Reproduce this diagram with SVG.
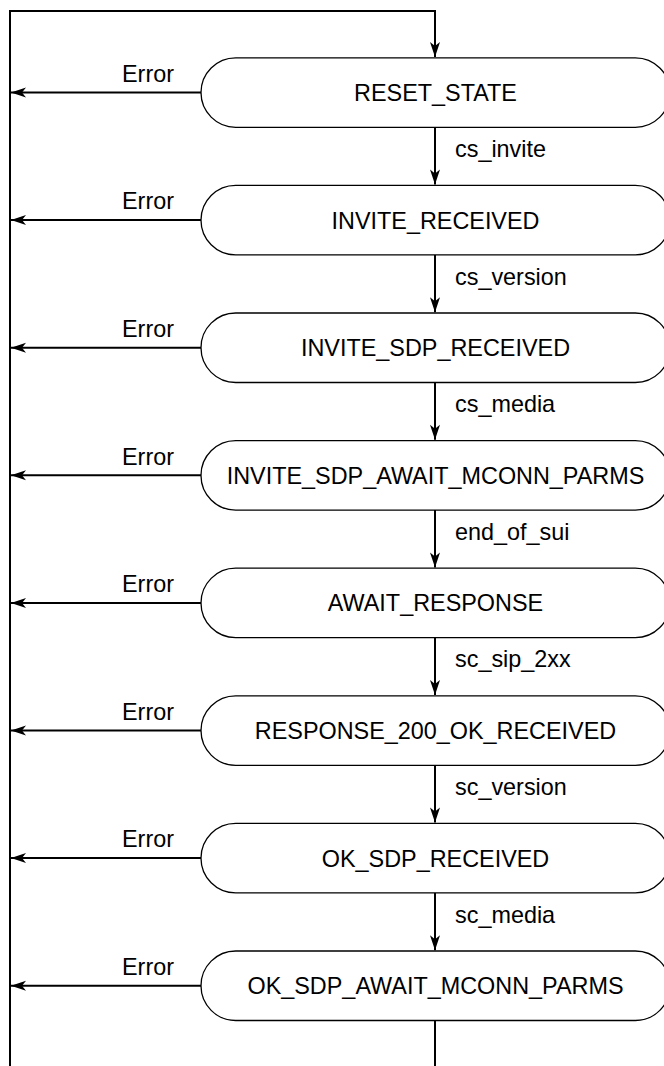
<svg xmlns="http://www.w3.org/2000/svg" width="664" height="1066" viewBox="0 0 664 1066">
<style>
.node rect{fill:#fff;stroke:#000;stroke-width:1.3}
.node text{font-family:"Liberation Sans",Arial,sans-serif;font-size:23.4px;text-anchor:middle;fill:#000}
.lbl{font-family:"Liberation Sans",Arial,sans-serif;font-size:23.4px;fill:#000}
.c{fill:none;stroke:#000;stroke-width:2}
</style>
<defs>
<marker id="ah" viewBox="-16 -6 17 12" refX="0" refY="0" markerWidth="17" markerHeight="12" markerUnits="userSpaceOnUse" orient="auto">
<path d="M0,0 L-15,-5 L-11,0 L-15,5 Z" fill="#000"/>
</marker>
</defs>
<g id="connectors">
<path class="c" d="M10,1066 V11 H435 V57" marker-end="url(#ah)"/>
<path class="c" d="M201,92.5 H11" marker-end="url(#ah)"/>
<path class="c" d="M201,220.1 H11" marker-end="url(#ah)"/>
<path class="c" d="M201,347.7 H11" marker-end="url(#ah)"/>
<path class="c" d="M201,475.3 H11" marker-end="url(#ah)"/>
<path class="c" d="M201,602.9 H11" marker-end="url(#ah)"/>
<path class="c" d="M201,730.5 H11" marker-end="url(#ah)"/>
<path class="c" d="M201,858.1 H11" marker-end="url(#ah)"/>
<path class="c" d="M201,985.7 H11" marker-end="url(#ah)"/>
<path class="c" d="M435,127.3 V184.6" marker-end="url(#ah)"/>
<path class="c" d="M435,254.9 V312.2" marker-end="url(#ah)"/>
<path class="c" d="M435,382.5 V439.8" marker-end="url(#ah)"/>
<path class="c" d="M435,510.1 V567.4" marker-end="url(#ah)"/>
<path class="c" d="M435,637.7 V695.0" marker-end="url(#ah)"/>
<path class="c" d="M435,765.3 V822.6" marker-end="url(#ah)"/>
<path class="c" d="M435,892.9 V950.2" marker-end="url(#ah)"/>
<path class="c" d="M435,1020.5 V1066"/>
<text class="lbl" x="122" y="81.7">Error</text>
<text class="lbl" x="122" y="209.3">Error</text>
<text class="lbl" x="122" y="336.9">Error</text>
<text class="lbl" x="122" y="464.5">Error</text>
<text class="lbl" x="122" y="592.1">Error</text>
<text class="lbl" x="122" y="719.7">Error</text>
<text class="lbl" x="122" y="847.3">Error</text>
<text class="lbl" x="122" y="974.9">Error</text>
<text class="lbl" x="455" y="157">cs_invite</text>
<text class="lbl" x="455" y="284.6">cs_version</text>
<text class="lbl" x="455" y="412.2">cs_media</text>
<text class="lbl" x="455" y="539.8">end_of_sui</text>
<text class="lbl" x="455" y="667.4">sc_sip_2xx</text>
<text class="lbl" x="455" y="795">sc_version</text>
<text class="lbl" x="455" y="922.6">sc_media</text>
</g>
<g id="n1" class="node"><rect x="201" y="57.8" width="469" height="69.5" rx="34.7"/><text x="435.5" y="101">RESET_STATE</text></g>
<g id="n2" class="node"><rect x="201" y="185.4" width="469" height="69.5" rx="34.7"/><text x="435.5" y="228.6">INVITE_RECEIVED</text></g>
<g id="n3" class="node"><rect x="201" y="313" width="469" height="69.5" rx="34.7"/><text x="435.5" y="356.2">INVITE_SDP_RECEIVED</text></g>
<g id="n4" class="node"><rect x="201" y="440.6" width="469" height="69.5" rx="34.7"/><text x="435.5" y="483.8">INVITE_SDP_AWAIT_MCONN_PARMS</text></g>
<g id="n5" class="node"><rect x="201" y="568.2" width="469" height="69.5" rx="34.7"/><text x="435.5" y="611.4">AWAIT_RESPONSE</text></g>
<g id="n6" class="node"><rect x="201" y="695.8" width="469" height="69.5" rx="34.7"/><text x="435.5" y="739">RESPONSE_200_OK_RECEIVED</text></g>
<g id="n7" class="node"><rect x="201" y="823.4" width="469" height="69.5" rx="34.7"/><text x="435.5" y="866.6">OK_SDP_RECEIVED</text></g>
<g id="n8" class="node"><rect x="201" y="951" width="469" height="69.5" rx="34.7"/><text x="435.5" y="994.2">OK_SDP_AWAIT_MCONN_PARMS</text></g>
</svg>
